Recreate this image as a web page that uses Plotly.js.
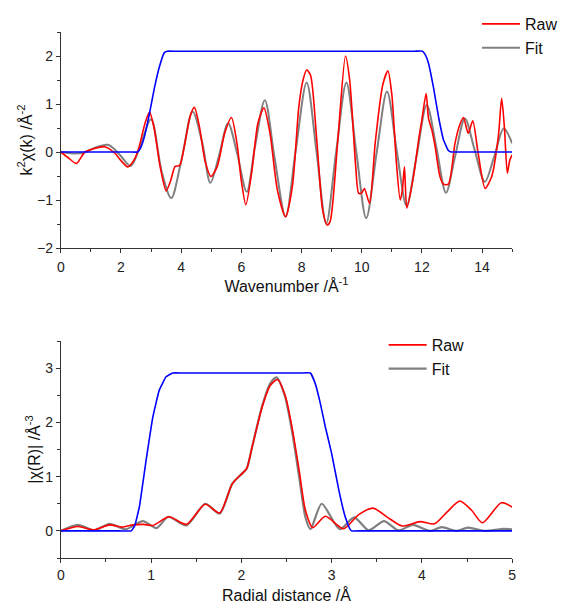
<!DOCTYPE html>
<html>
<head>
<meta charset="utf-8">
<script src="https://cdn.plot.ly/plotly-3.0.1.min.js"></script>
<style>html,body{margin:0;padding:0;background:#fff;}#chart{width:563px;height:604px;}</style>
</head>
<body>
<div id="chart"></div>
<script>
// ---- Top panel: k-space ----
const kRaw = [0,0.25,0.52,0.8,1.1,1.46,1.79,2.0,2.23,2.45,2.6,2.8,2.95,3.1,3.3,3.5,3.65,3.8,3.95,4.1,4.3,4.44,4.6,4.8,4.99,5.2,5.45,5.67,5.85,6.0,6.15,6.35,6.55,6.75,6.95,7.2,7.47,7.7,7.91,8.05,8.17,8.3,8.5,8.7,8.85,8.95,9.2,9.46,9.6,9.8,9.9,10.0,10.09,10.26,10.45,10.7,10.87,11.0,11.15,11.28,11.35,11.42,11.5,11.72,11.89,12.0,12.14,12.22,12.33,12.44,12.6,12.72,12.88,13.1,13.25,13.38,13.54,13.69,13.87,14.1,14.32,14.54,14.65,14.74,14.84,14.92,15.0];
const chiRaw = [0,-0.12,-0.24,0,0.07,0.11,-0.02,-0.18,-0.31,-0.15,0.1,0.6,0.83,0.5,-0.3,-0.81,-0.6,-0.3,-0.28,0.1,0.75,0.93,0.55,-0.2,-0.51,-0.3,0.4,0.72,0.2,-0.6,-1.1,-0.4,0.6,0.92,0.4,-0.8,-1.35,-0.7,0.94,1.5,1.71,1.6,0.3,-1.2,-1.52,-1.45,0.2,2.0,1.5,-0.3,-0.86,-0.85,-0.76,-1.07,0.2,1.4,1.69,1.2,-0.2,-1.0,-0.8,-0.31,-1.17,-0.51,0.25,0.67,1.22,0.7,0.46,0.11,-0.51,-0.67,-0.67,0.18,0.55,0.72,0.39,0.65,-0.03,-0.76,-0.51,0.32,1.12,0.53,-0.44,-0.17,-0.06];
const kFit = [0,0.4,0.8,1.1,1.57,1.95,2.32,2.6,3.0,3.35,3.67,4.0,4.38,4.7,4.97,5.25,5.56,5.85,6.18,6.45,6.78,7.1,7.47,7.8,8.17,8.5,8.82,9.15,9.49,9.82,10.15,10.5,10.84,11.17,11.49,11.82,12.16,12.48,12.8,13.1,13.43,13.75,14.09,14.4,14.72,15.0];
const chiFit = [0,-0.03,-0.01,0.08,0.15,-0.05,-0.29,0.05,0.68,-0.4,-0.96,-0.2,0.84,0.2,-0.64,-0.1,0.6,0.0,-0.83,0.1,1.08,-0.1,-1.35,0.0,1.45,0.0,-1.49,0.0,1.45,0.0,-1.38,0.0,1.26,0.0,-1.12,-0.1,0.98,0.1,-0.85,-0.1,0.70,0.05,-0.62,-0.1,0.49,0.18];
const kWin = [0,2.3,2.55,2.65,2.78,2.95,3.11,3.28,3.44,3.53,3.8,11.75,12.02,12.12,12.22,12.38,12.55,12.72,12.88,12.97,13.2,15];
const win1 = [0,0,0,0.08,0.32,0.81,1.33,1.78,2.07,2.1,2.1,2.1,2.1,2.02,1.85,1.36,0.74,0.25,0.03,0,0,0];
const kTicks = [0,2,4,6,8,10,12,14];

// ---- Bottom panel: R-space ----
const rRaw = [0,0.19,0.37,0.54,0.68,0.8,0.92,1.02,1.2,1.39,1.6,1.76,1.9,2.01,2.06,2.12,2.23,2.32,2.4,2.49,2.56,2.64,2.71,2.79,2.93,3.13,3.3,3.46,3.62,3.78,3.98,4.14,4.28,4.42,4.55,4.67,4.88,5.0];
const magRaw = [0,0.08,0.02,0.11,0.07,0.11,0.12,0.1,0.26,0.12,0.49,0.33,0.87,1.06,1.15,1.55,2.28,2.68,2.79,2.47,1.92,1.12,0.38,0.06,0.27,0.04,0.3,0.42,0.25,0.09,0.17,0.13,0.35,0.55,0.38,0.15,0.52,0.44];
const rFit = [0,0.19,0.37,0.54,0.72,0.91,1.06,1.19,1.39,1.6,1.76,1.9,2.01,2.06,2.12,2.23,2.32,2.39,2.48,2.56,2.64,2.71,2.765,2.89,3.09,3.25,3.41,3.58,3.74,3.9,4.09,4.22,4.38,4.51,4.7,4.88,5.0];
const magFit = [0,0.11,0.01,0.13,0.03,0.18,0.05,0.26,0.10,0.50,0.32,0.87,1.06,1.15,1.55,2.3,2.72,2.83,2.5,1.85,1.0,0.25,0.03,0.5,0.03,0.25,0.01,0.18,0.01,0.11,0.0,0.07,0.0,0.06,0.0,0.035,0.03];
const rWin = [0,0.65,0.78,0.82,0.87,0.945,1.02,1.09,1.166,1.24,1.35,2.65,2.765,2.82,2.875,2.93,3.0,3.08,3.15,3.2,3.22,3.35,5];
const win2 = [0,0,0,0.1,0.44,1.30,2.1,2.59,2.84,2.91,2.91,2.91,2.91,2.71,2.35,1.92,1.43,0.75,0.26,0.04,0,0,0];
const rTicks = [0,1,2,3,4,5];

const RED = '#ff0000', GRAY = '#808080', BLUE = '#0000ff';
const FONT = 'Liberation Sans, Arial, sans-serif';

const traces = [
  {x: kFit, y: chiFit, xaxis: 'x', yaxis: 'y', mode: 'lines', name: 'Fit', legend: 'legend', legendrank: 2,
   line: {color: GRAY, width: 2, shape: 'spline', smoothing: 0.9}},
  {x: kRaw, y: chiRaw, xaxis: 'x', yaxis: 'y', mode: 'lines', name: 'Raw', legend: 'legend', legendrank: 1,
   line: {color: RED, width: 1.6, shape: 'spline', smoothing: 0.7}},
  {x: kWin, y: win1, xaxis: 'x', yaxis: 'y', mode: 'lines', showlegend: false,
   line: {color: BLUE, width: 1.6, shape: 'spline', smoothing: 0.3}},
  {x: rFit, y: magFit, xaxis: 'x2', yaxis: 'y2', mode: 'lines', name: 'Fit', legend: 'legend2', legendrank: 2,
   line: {color: GRAY, width: 2.2, shape: 'spline', smoothing: 0.7}},
  {x: rRaw, y: magRaw, xaxis: 'x2', yaxis: 'y2', mode: 'lines', name: 'Raw', legend: 'legend2', legendrank: 1,
   line: {color: RED, width: 1.6, shape: 'spline', smoothing: 0.7}},
  {x: rWin, y: win2, xaxis: 'x2', yaxis: 'y2', mode: 'lines', showlegend: false,
   line: {color: BLUE, width: 1.6, shape: 'spline', smoothing: 0.3}}
];

const axisCommon = {
  showline: true, linecolor: '#333', linewidth: 1, mirror: false,
  showgrid: false, zeroline: false,
  ticks: 'outside', ticklen: 4, tickwidth: 1, tickcolor: '#333',
  tickfont: {family: FONT, size: 14, color: '#222'},
  fixedrange: true
};
const titleFont = {family: FONT, size: 16, color: '#111'};
const W = 563, H = 604;
const xd = [61 / W, 514 / W];

const layout = {
  width: W, height: H,
  margin: {l: 0, r: 0, t: 0, b: 0},
  paper_bgcolor: '#fff', plot_bgcolor: '#fff',
  showlegend: true,
  font: {family: FONT},
  xaxis: Object.assign({}, axisCommon, {
    domain: xd, anchor: 'y', range: [0, 15], tickvals: kTicks, ticklabelstandoff: 2,
    minor: {dtick: 1, ticks: 'outside', ticklen: 3, tickcolor: '#333', showgrid: false},
    title: {text: 'Wavenumber /Å<sup>-1</sup>', font: titleFont, standoff: 4}
  }),
  yaxis: Object.assign({}, axisCommon, {
    domain: [1 - 248 / H, 1 - 32 / H], anchor: 'x', range: [-2, 2.5], dtick: 1, tick0: 0,
    minor: {dtick: 0.5, ticks: 'outside', ticklen: 3, tickcolor: '#333', showgrid: false},
    title: {text: 'k<sup>2</sup>χ(k) /Å<sup>-2</sup>', font: titleFont, standoff: 0}
  }),
  xaxis2: Object.assign({}, axisCommon, {
    domain: xd, anchor: 'y2', range: [0, 5], tickvals: rTicks,
    minor: {dtick: 0.5, ticks: 'outside', ticklen: 3, tickcolor: '#333', showgrid: false},
    title: {text: 'Radial distance /Å', font: titleFont, standoff: 8}
  }),
  yaxis2: Object.assign({}, axisCommon, {
    domain: [1 - 558 / H, 1 - 341 / H], anchor: 'x2', range: [-0.5, 3.5], dtick: 1, tick0: 0,
    minor: {dtick: 0.5, ticks: 'outside', ticklen: 3, tickcolor: '#333', showgrid: false},
    title: {text: '|χ(R)| /Å<sup>-3</sup>', font: titleFont, standoff: 0}
  }),
  legend: {x: 479 / W, y: 1 - 7 / H, xanchor: 'left', yanchor: 'top', bgcolor: 'rgba(0,0,0,0)',
    font: {family: FONT, size: 16, color: '#111'}, itemwidth: 38, tracegroupgap: 0, traceorder: 'normal'},
  legend2: {x: 385 / W, y: 1 - 328 / H, xanchor: 'left', yanchor: 'top', bgcolor: 'rgba(0,0,0,0)',
    font: {family: FONT, size: 16, color: '#111'}, itemwidth: 38, tracegroupgap: 0, traceorder: 'normal'}
};

Plotly.newPlot('chart', traces, layout, {staticPlot: true, displayModeBar: false});
</script>
</body>
</html>
